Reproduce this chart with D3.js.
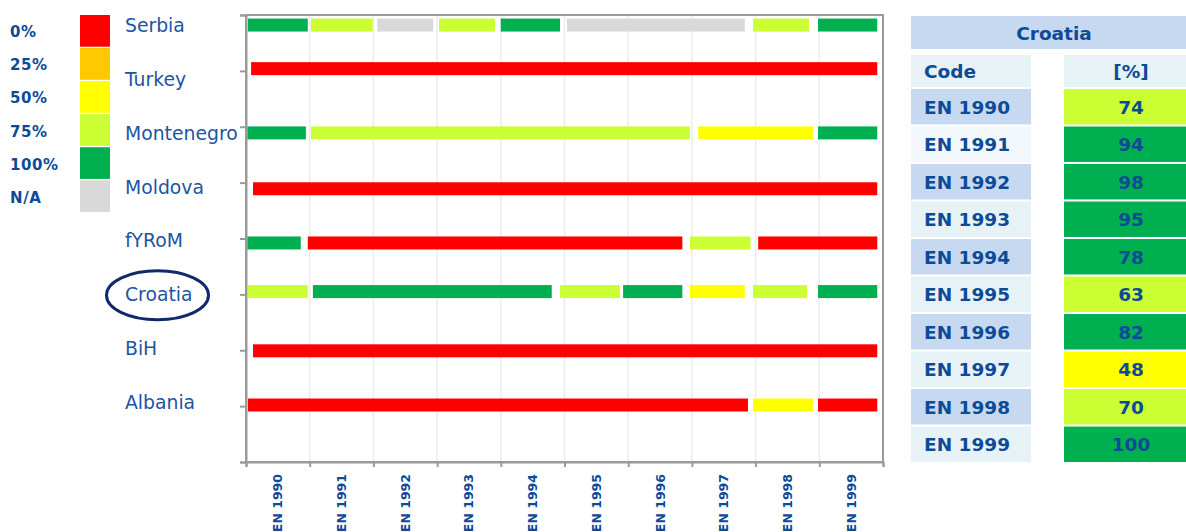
<!DOCTYPE html>
<html>
<head>
<meta charset="utf-8">
<script src="https://cdn.jsdelivr.net/npm/d3@7"></script>
<style>
  body { margin: 0; background: #fff; }
  svg { display: block; font-family: "DejaVu Sans", Verdana, sans-serif; }
</style>
</head>
<body>
<div id="chart"></div>
<script>
const w = 1186;
const h = 532;

// legend / status classes
const statusKeys = ["0%", "25%", "50%", "75%", "100%", "N/A"];
const statusColors = ["#ff0000", "#ffc800", "#ffff00", "#ccff33", "#00b050", "#d9d9d9"];

const countries = ["Serbia", "Turkey", "Montenegro", "Moldova", "fYRoM", "Croatia", "BiH", "Albania"];
// vertical level each country's bars sit at (y axis runs 0..8)
const rowLevel = [7.82, 7.04, 5.89, 4.89, 3.92, 3.05, 1.99, 1.02];

const codes = ["EN 1990", "EN 1991", "EN 1992", "EN 1993", "EN 1994",
               "EN 1995", "EN 1996", "EN 1997", "EN 1998", "EN 1999"];

// segments: [from, to, status] in code units (0 = start of EN 1990)
const serbia = [[0.03, 0.97, "100%"], [1.02, 1.99, "75%"], [2.06, 2.94, "N/A"], [3.03, 3.91, "75%"],
                [4.0, 4.93, "100%"], [5.04, 7.83, "N/A"], [7.96, 8.84, "75%"], [8.98, 9.91, "100%"]];
const turkey = [[0.08, 9.91, "0%"]];
const montenegro = [[0.02, 0.94, "100%"], [1.02, 6.97, "75%"], [7.10, 8.90, "50%"], [8.98, 9.91, "100%"]];
const moldova = [[0.11, 9.91, "0%"]];
const fyrom = [[0.02, 0.86, "100%"], [0.97, 6.85, "0%"], [6.97, 7.92, "75%"], [8.04, 9.91, "0%"]];
const croatia = [[0.03, 0.97, "75%"], [1.05, 4.80, "100%"], [4.93, 5.87, "75%"], [5.92, 6.85, "100%"],
                 [6.97, 7.83, "50%"], [7.96, 8.81, "75%"], [8.98, 9.91, "100%"]];
const bih = [[0.11, 9.91, "0%"]];
const albania = [[0.03, 7.88, "0%"], [7.96, 8.90, "50%"], [8.98, 9.91, "0%"]];
const segmentsByCountry = [serbia, turkey, montenegro, moldova, fyrom, croatia, bih, albania];

// Croatia table
const croatiaPct = [74, 94, 98, 95, 78, 63, 82, 48, 70, 100];
const croatiaStatus = ["75%", "100%", "100%", "100%", "100%", "75%", "100%", "50%", "75%", "100%"];

const blue = "#0d4a98";
const color = d3.scaleOrdinal().domain(statusKeys).range(statusColors);

const svg = d3.select("#chart").append("svg")
  .attr("width", w)
  .attr("height", h);

// ---------- plot area ----------
const plotL = 246, plotR = 883, plotT = 15, plotB = 462;

const xScale = d3.scaleLinear().domain([0, codes.length]).range([plotL, plotR]);
const yScale = d3.scaleLinear().domain([0, 8]).range([plotB, plotT]);

// grid lines
svg.append("g")
  .selectAll("line")
  .data(d3.range(1, codes.length))
  .enter()
  .append("line")
  .attr("x1", d => xScale(d))
  .attr("x2", d => xScale(d))
  .attr("y1", plotT)
  .attr("y2", plotB)
  .attr("stroke", "#ececec")
  .attr("stroke-width", 1.5);

// bars
const barH = 13;
const flat = [];
segmentsByCountry.forEach((segs, i) => {
  segs.forEach(s => flat.push({ country: countries[i], level: rowLevel[i], from: s[0], to: s[1], status: s[2] }));
});

svg.append("g")
  .selectAll("rect")
  .data(flat)
  .enter()
  .append("rect")
  .attr("x", d => xScale(d.from))
  .attr("y", d => yScale(d.level) - barH / 2)
  .attr("width", d => xScale(d.to) - xScale(d.from))
  .attr("height", barH)
  .attr("fill", d => color(d.status));

// frame
svg.append("rect")
  .attr("x", plotL)
  .attr("y", plotT)
  .attr("width", plotR - plotL)
  .attr("height", plotB - plotT)
  .attr("fill", "none")
  .attr("stroke", "#9a9a9a")
  .attr("stroke-width", 2);

const yAxis = d3.axisLeft(yScale).ticks(8).tickSize(6).tickFormat("");
svg.append("g")
  .attr("transform", `translate(${plotL},0)`)
  .call(yAxis)
  .call(g => g.selectAll("path, line").attr("stroke", "#9a9a9a").attr("stroke-width", 2));

const xAxis = d3.axisBottom(xScale).ticks(codes.length).tickSize(5).tickFormat("");
svg.append("g")
  .attr("transform", `translate(0,${plotB})`)
  .call(xAxis)
  .call(g => g.selectAll("path, line").attr("stroke", "#9a9a9a").attr("stroke-width", 2));

// rotated code labels
svg.append("g")
  .selectAll("text")
  .data(codes)
  .enter()
  .append("text")
  .attr("transform", (d, i) => `translate(${xScale(i + 0.5) + 4.5},${plotB + 12}) rotate(-90)`)
  .attr("text-anchor", "end")
  .attr("font-size", "12.5px")
  .attr("font-weight", "bold")
  .attr("fill", blue)
  .text(d => d);

// ---------- legend ----------
const legendY = d3.scaleBand().domain(statusKeys).range([15, 212]).paddingInner(0.04);

svg.append("g")
  .selectAll("rect")
  .data(statusKeys)
  .enter()
  .append("rect")
  .attr("x", 80)
  .attr("y", d => legendY(d))
  .attr("width", 30)
  .attr("height", legendY.bandwidth())
  .attr("fill", d => color(d));

const legendLabelY = d3.scalePoint().domain(statusKeys).range([37, 203]);
svg.append("g")
  .selectAll("text")
  .data(statusKeys)
  .enter()
  .append("text")
  .attr("x", 10)
  .attr("y", d => legendLabelY(d))
  .attr("font-size", "15px")
  .attr("font-weight", "bold")
  .attr("letter-spacing", "0.6px")
  .attr("fill", blue)
  .text(d => d);

// country names
const nameY = d3.scalePoint().domain(countries).range([32, 409]);
svg.append("g")
  .selectAll("text")
  .data(countries)
  .enter()
  .append("text")
  .attr("x", 125)
  .attr("y", d => nameY(d))
  .attr("font-size", "18.8px")
  .attr("fill", "#1d55a3")
  .text(d => d);

// highlight Croatia
svg.append("ellipse")
  .attr("cx", 157.5)
  .attr("cy", nameY("Croatia") - 6)
  .attr("rx", 51)
  .attr("ry", 24.5)
  .attr("fill", "none")
  .attr("stroke", "#0f2a6b")
  .attr("stroke-width", 3);

// ---------- table ----------
const codeX = 911, codeW = 120, valX = 1064, valW = 134;
const tableFont = "18.5px";

svg.append("rect")
  .attr("x", codeX).attr("y", 16)
  .attr("width", valX + valW - codeX).attr("height", 33)
  .attr("fill", "#c6d9f1");
svg.append("text")
  .attr("x", 1054).attr("y", 40)
  .attr("text-anchor", "middle")
  .attr("font-size", tableFont).attr("font-weight", "bold")
  .attr("fill", blue)
  .text("Croatia");

svg.append("rect").attr("x", codeX).attr("y", 55).attr("width", codeW).attr("height", 32).attr("fill", "#e6f2f5");
svg.append("rect").attr("x", valX).attr("y", 55).attr("width", valW).attr("height", 32).attr("fill", "#e6f2f5");
svg.append("text")
  .attr("x", 924).attr("y", 78)
  .attr("font-size", tableFont).attr("font-weight", "bold")
  .attr("fill", blue)
  .text("Code");
svg.append("text")
  .attr("x", 1131).attr("y", 78)
  .attr("text-anchor", "middle")
  .attr("font-size", tableFont).attr("font-weight", "bold")
  .attr("fill", blue)
  .text("[%]");

const rowY = d3.scaleBand().domain(codes).range([89, 462]).paddingInner(0.055);

const rows = svg.append("g")
  .selectAll("g")
  .data(codes)
  .enter()
  .append("g")
  .attr("transform", d => `translate(0,${rowY(d)})`);

rows.append("rect")
  .attr("x", codeX)
  .attr("width", codeW)
  .attr("height", rowY.bandwidth())
  .attr("fill", (d, i) => i % 2 === 0 ? "#c6d9f1" : (i === 1 ? "#f1f7fa" : "#e6f2f5"));

rows.append("rect")
  .attr("x", valX)
  .attr("width", valW)
  .attr("height", rowY.bandwidth())
  .attr("fill", (d, i) => color(croatiaStatus[i]));

rows.append("text")
  .attr("x", 924)
  .attr("y", rowY.bandwidth() / 2 + 7)
  .attr("font-size", tableFont).attr("font-weight", "bold")
  .attr("fill", blue)
  .text(d => d);

rows.append("text")
  .attr("x", 1131)
  .attr("y", rowY.bandwidth() / 2 + 7)
  .attr("text-anchor", "middle")
  .attr("font-size", tableFont).attr("font-weight", "bold")
  .attr("fill", blue)
  .text((d, i) => croatiaPct[i]);
</script>
</body>
</html>
